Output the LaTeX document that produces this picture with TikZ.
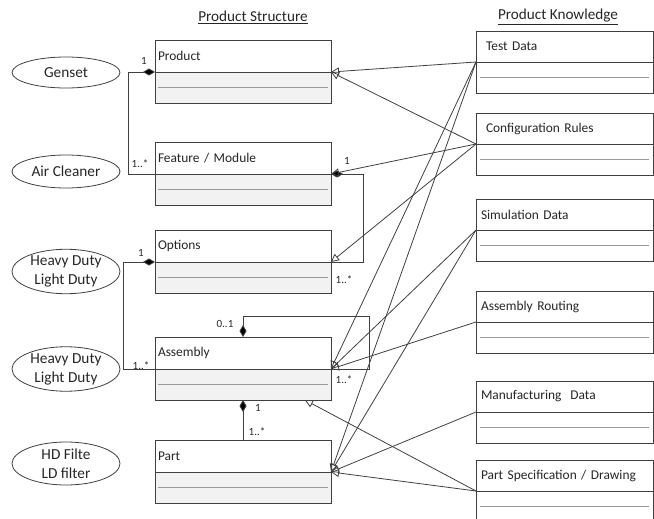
\documentclass[tikz,border=0pt]{standalone}
\usepackage{fontspec}
\setmainfont{Carlito}
\usetikzlibrary{arrows.meta,shapes.geometric}
\begin{document}
\begin{tikzpicture}[x=1pt,y=-1pt,
  ln/.style={draw=black!75, line width=0.8pt},
  boxtop/.style={draw=black!75, line width=0.9pt, fill=white, minimum height=32pt, inner xsep=3pt, text width=170pt, align=left, anchor=north west, outer sep=0pt, font=\fontsize{13.4}{16}\selectfont, text=black!85},
  boxbot/.style={draw=black!75, line width=0.9pt, fill=gray!10, minimum height=31pt, minimum width=176pt, inner sep=0pt, anchor=north west, outer sep=0pt},
  rtop/.style={draw=black!75, line width=0.9pt, fill=white, minimum height=31pt, inner xsep=5pt, text width=167pt, align=left, anchor=north west, outer sep=0pt, font=\fontsize{13.4}{16}\selectfont, text=black!85},
  rtopw/.style={rtop, inner xsep=10pt, text width=157pt},
  rbot/.style={draw=black!75, line width=0.9pt, fill=white, minimum height=31pt, minimum width=177pt, inner sep=0pt, anchor=north west, outer sep=0pt},
  dots/.style={draw=gray!80, line width=0.4pt, dash pattern=on 0.5pt off 0.5pt},
  ell/.style={ellipse, draw=black!75, line width=0.8pt, minimum width=108pt, inner sep=0pt, align=center, font=\fontsize{15.3}{19}\selectfont, text=black!85},
  mult/.style={inner sep=1pt, font=\fontsize{11}{13}\selectfont, text=black!85},
  ttl/.style={inner sep=1pt, font=\fontsize{15.2}{18}\selectfont, text=black!85},
  comp/.style={ln, {Diamond[length=12pt,width=7pt,fill=black]}-},
  gen/.style={ln, -{Triangle[open,length=8pt,width=8pt]}}
]
\useasboundingbox (0,0) rectangle (654,519);

% titles
\node[ttl] (t1) at (253,17) {\underline{Product Structure}};
\node[ttl] (t2) at (558,17) {\underline{Product Knowledge}};

% ellipses
\node[ell, minimum height=31pt] (e1) at (66,72.5) {Genset};
\node[ell, minimum height=33pt] (e2) at (66,171.5) {Air Cleaner};
\node[ell, minimum height=43pt] (e3) at (66,271.5) {Heavy Duty\\Light Duty};
\node[ell, minimum height=44pt] (e4) at (66,369) {Heavy Duty\\Light Duty};
\node[ell, minimum height=43pt] (e5) at (66,463.5) {HD Filte\\LD filter};

% left boxes
\node[boxtop] (prodT) at (155,40) {Product};
\node[boxbot] (prodB) at (prodT.south west) {};
\node[boxtop] (featT) at (155,142) {Feature / Module};
\node[boxbot] (featB) at (featT.south west) {};
\node[boxtop] (optT) at (155,230) {Options};
\node[boxbot] (optB) at (optT.south west) {};
\node[boxtop] (asmT) at (155,337) {Assembly};
\node[boxbot] (asmB) at (asmT.south west) {};
\node[boxtop] (partT) at (155,440) {Part};
\node[boxbot] (partB) at (partT.south west) {};
\foreach \b in {prodB,featB,optB,asmB,partB}{
  \draw[dots] ([xshift=3pt]\b.west) -- ([xshift=-3pt]\b.east);
}

% right boxes
\node[rtopw] (tdT) at (476,31) {Test Data};
\node[rbot] (tdB) at (tdT.south west) {};
\node[rtopw] (crT) at (476,113) {Configuration Rules};
\node[rbot] (crB) at (crT.south west) {};
\node[rtop] (sdT) at (476,199) {Simulation Data};
\node[rbot] (sdB) at (sdT.south west) {};
\node[rtop] (arT) at (476,291) {Assembly Routing};
\node[rbot] (arB) at (arT.south west) {};
\node[rtop] (mdT) at (476,381) {Manufacturing~ Data};
\node[rbot] (mdB) at (mdT.south west) {};
\node[rtop] (psT) at (476,460) {Part Specification / Drawing};
\node[rbot] (psB) at (psT.south west) {};
\foreach \b in {tdB,crB,sdB,arB,mdB,psB}{
  \draw[dots] ([xshift=4pt]\b.west) -- ([xshift=-4pt]\b.east);
}

% compositions
\draw[comp] (prodT.south west) -- ++(-27,0) |- (featT.south west);
\draw[comp] (featT.south east) -- ++(32,0) |- (optT.south east);
\draw[comp] (optT.south west) -- ++(-32,0) |- (asmT.south west);
\draw[comp] (asmT.north) -- ++(0,-21) -| ([xshift=38pt]asmT.south east) -- (asmT.south east);
\draw[comp] (asmB.south) -- (partT.north);

% generalisations
\draw[gen] (tdT.south west) -- (prodT.south east);
\draw[gen] (crT.south west) -- (prodT.south east);
\draw[gen] (crT.south west) -- (featT.south east);
\draw[gen] (crT.south west) -- (optT.south east);
\draw[gen] (tdT.south west) -- (asmT.south east);
\draw[gen] (tdT.south west) -- (partT.south east);
\draw[gen] (sdT.south west) -- (asmT.south east);
\draw[gen] (sdT.south west) -- (partT.south east);
\draw[gen] (arT.south west) -- (asmT.south east);
\draw[gen] (mdT.south west) -- (partT.south east);
\draw[gen] (psT.south west) -- (partT.south east);
\draw[gen] (psT.south west) -- ([xshift=-26pt]asmB.south east);

% multiplicities
\node[mult] (l1) at (144,61) {1};
\node[mult] (l2) at (140,164) {1..*};
\node[mult] (l3) at (347,161) {1};
\node[mult] (l4) at (344,280) {1..*};
\node[mult] (l5) at (141,253) {1};
\node[mult] (l6) at (141,366) {1..*};
\node[mult] (l7) at (225,324) {0..1};
\node[mult] (l8) at (344,380) {1..*};
\node[mult] (l9) at (258,408) {1};
\node[mult] (l10) at (257,432) {1..*};
\end{tikzpicture}
\end{document}
